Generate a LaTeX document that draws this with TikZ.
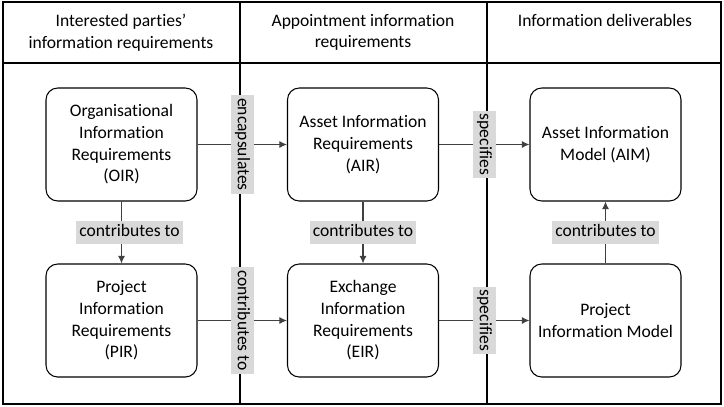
\documentclass[tikz,border=0pt]{standalone}
\usepackage{fontspec}
\setmainfont{Carlito}[RawFeature={-liga;-clig;-calt;-dlig}]
\usepackage{tikz}
\usetikzlibrary{shapes}
\usetikzlibrary{arrows.meta}
\usetikzlibrary{positioning}
\definecolor{fondetiq}{HTML}{D9D9D9}
\definecolor{gristrait}{HTML}{404040}
\tikzstyle{entete}=[anchor=north,align=center,inner sep=0pt]
\tikzstyle{bloc}=[rectangle,draw=black,line width=0.9pt,rounded corners=10pt,
        minimum width=4.53cm,minimum height=3.39cm,align=center,inner sep=4pt]
\tikzstyle{etiq}=[rectangle,fill=fondetiq,inner sep=2.5pt,text height=11pt,text depth=3.5pt]
\tikzstyle{lien}=[-{Latex[length=6.5pt,width=6pt]},draw=gristrait,line width=0.9pt]

\begin{document}
\begin{tikzpicture}[font=\fontsize{15}{18.5}\selectfont]
\useasboundingbox (0,0) rectangle (21.72,-12.18);
%Table
\draw[line width=1pt] (0.09,-0.06) rectangle (21.63,-12.12);
\draw[line width=0.9pt] (0.09,-1.89) -- (21.63,-1.89);
\draw[line width=0.9pt] (7.2,-0.06) -- (7.2,-12.12);
\draw[line width=0.9pt] (14.61,-0.06) -- (14.61,-12.12);
\node[entete] (h1) at (3.63,-0.42) {Interested parties’\\information requirements};
\node[entete] (h2) at (10.89,-0.42) {Appointment information\\requirements};
\node[entete] (h3) at (18.15,-0.42) {Information deliverables};
%Boxes
\node[bloc] (a) at (3.645,-4.335) {Organisational\\Information\\Requirements\\(OIR)};
\node[bloc] (b) at (10.89,-4.335) {Asset Information\\Requirements\\(AIR)};
\node[bloc] (c) at (18.165,-4.335) {Asset Information\\Model (AIM)};
\node[bloc] (d) at (3.645,-9.615) {Project\\Information\\Requirements\\(PIR)};
\node[bloc] (e) at (10.89,-9.615) {Exchange\\Information\\Requirements\\(EIR)};
\node[bloc] (f) at (18.165,-9.615) {Project\\Information Model};
%Drawing Edges
\draw[lien] (a) -- (b) node[midway,etiq,rotate=-90]{encapsulates};
\draw[lien] (b) -- (c) node[midway,etiq,rotate=-90]{specifies};
\draw[lien] (a) -- (d) node[midway,etiq,xshift=0.24cm]{contributes to};
\draw[lien] (b) -- (e) node[midway,etiq]{contributes to};
\draw[lien] (f) -- (c) node[midway,etiq]{contributes to};
\draw[lien] (d) -- (e) node[midway,etiq,rotate=-90]{contributes to};
\draw[lien] (e) -- (f) node[midway,etiq,rotate=-90]{specifies};
\end{tikzpicture}
\end{document}
